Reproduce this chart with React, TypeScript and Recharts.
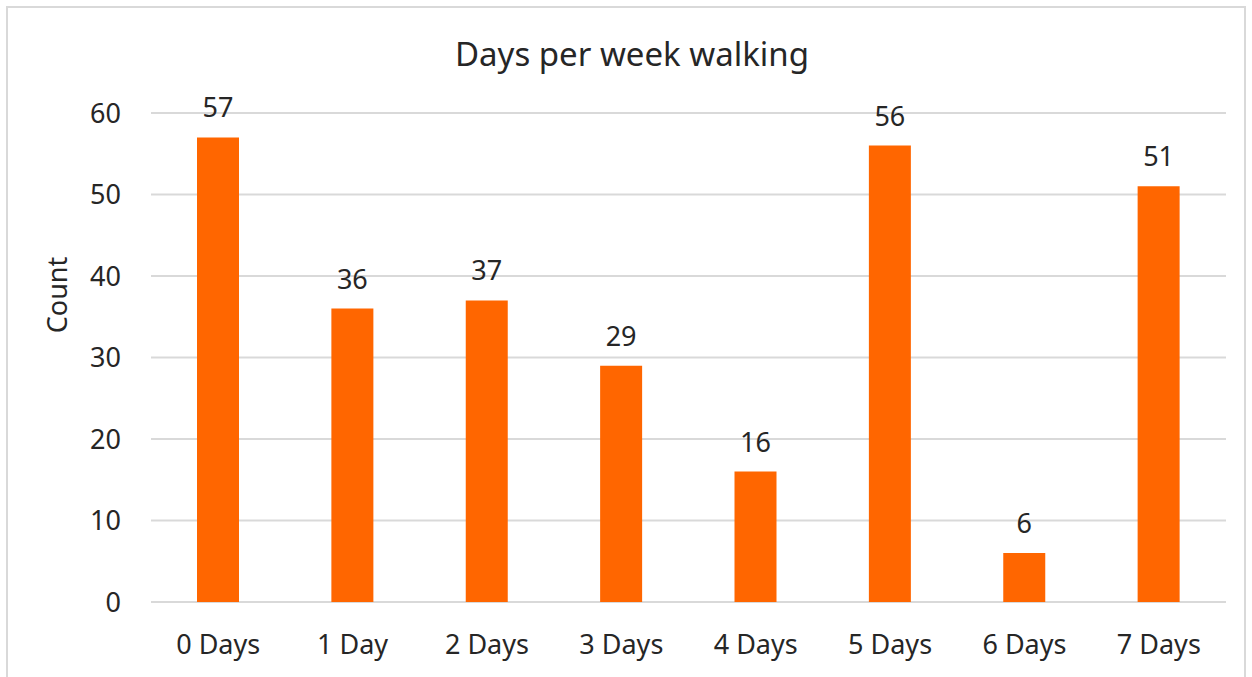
import { BarChart, Bar, XAxis, YAxis, CartesianGrid, LabelList } from "recharts"

const categories = ["0 Days", "1 Day", "2 Days", "3 Days", "4 Days", "5 Days", "6 Days", "7 Days"]
const counts = [57, 36, 37, 29, 16, 56, 6, 51]
const yTicks = [0, 10, 20, 30, 40, 50, 60]

const chartData = categories.map((name, i) => ({ name, count: counts[i] }))

const FONT = "'Noto Sans', sans-serif"
const TEXT = "#262626"

export default function App() {
  return (
    <div style={{ position: "absolute", left: 0, top: 0, width: 1252, height: 677, background: "#fff", overflow: "hidden", fontFamily: FONT }}>
      <div
        style={{
          position: "absolute",
          left: 6,
          top: 6,
          width: 1236,
          height: 690,
          border: "2px solid #d9d9d9",
        }}
      />
      <div
        style={{
          position: "absolute",
          left: 0,
          top: 31,
          width: 1264,
          textAlign: "center",
          fontSize: 33,
          color: TEXT,
        }}
      >
        Days per week walking
      </div>
      <BarChart
        width={1252}
        height={677}
        data={chartData}
        margin={{ top: 113, right: 26, bottom: 45, left: 51 }}
        barSize={42}
        style={{ position: "absolute", left: 0, top: 0 }}
      >
        <CartesianGrid horizontal vertical={false} stroke="#d9d9d9" strokeWidth={2} />
        <XAxis
          dataKey="name"
          axisLine={false}
          tickLine={false}
          tickSize={0}
          tickMargin={33}
          tick={{ fontSize: 27, fill: TEXT, fontFamily: FONT }}
          interval={0}
        />
        <YAxis
          width={100}
          domain={[0, 60]}
          ticks={yTicks}
          axisLine={false}
          tickLine={false}
          tickSize={0}
          tickMargin={30}
          tick={{ fontSize: 27, fill: TEXT, fontFamily: FONT }}
          label={{
            content: () => (
              <text
                x={0}
                y={0}
                transform="translate(67, 295) rotate(-90)"
                textAnchor="middle"
                fontSize={27}
                fill={TEXT}
                fontFamily={FONT}
              >
                Count
              </text>
            ),
          }}
        />
        <Bar dataKey="count" fill="#FF6600" isAnimationActive={false}>
          <LabelList dataKey="count" position="top" offset={20} fontSize={27} fill={TEXT} fontFamily={FONT} />
        </Bar>
      </BarChart>
    </div>
  )
}
